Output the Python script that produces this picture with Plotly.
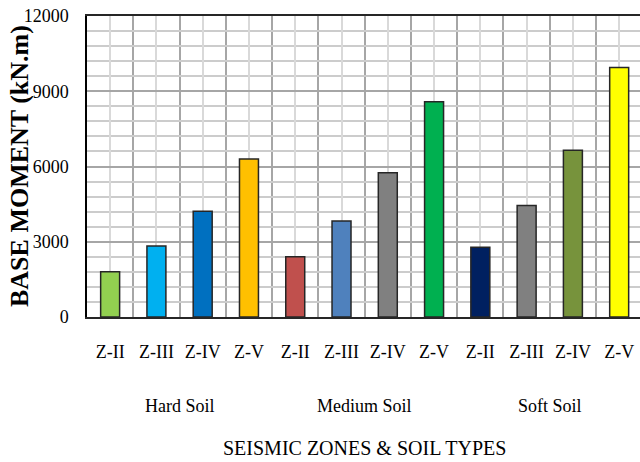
import plotly.graph_objects as go

# Base moment for each seismic zone, grouped by soil type
zones = ["Z-II", "Z-III", "Z-IV", "Z-V"] * 3
soil_types = ["Hard Soil", "Medium Soil", "Soft Soil"]
base_moment = [1800, 2830, 4220, 6300,
               2400, 3830, 5750, 8580,
               2780, 4450, 6650, 9950]
bar_colors = ["#92D050", "#00B0F0", "#0070C0", "#FFC000",
              "#C0504D", "#4F81BD", "#808080", "#00B050",
              "#002060", "#808080", "#77933C", "#FFFF00"]
y_ticks = [0, 3000, 6000, 9000, 12000]

positions = list(range(len(base_moment)))
boundaries = [p - 0.5 for p in positions] + [len(positions) - 0.5]

SERIF = "Liberation Serif"

fig = go.Figure(
    go.Bar(
        x=positions,
        y=base_moment,
        width=0.41,
        marker=dict(color=bar_colors, line=dict(color="#262626", width=1.5)),
        showlegend=False,
    )
)

fig.update_xaxes(
    range=[-0.5, 11.45],
    tickmode="array",
    tickvals=positions,
    ticktext=zones,
    ticks="",
    ticklabelstandoff=18,
    tickfont=dict(family=SERIF, size=18, color="black"),
    showgrid=True,
    gridcolor="#d9d9d9",
    gridwidth=1.5,
    minor=dict(tickmode="array", tickvals=boundaries, showgrid=True,
               gridcolor="#a6a6a6", gridwidth=1.5, ticks=""),
    showline=True,
    linecolor="#262626",
    linewidth=1.5,
    mirror=True,
    zeroline=False,
)

fig.update_yaxes(
    range=[0, 12000],
    tickmode="array",
    tickvals=y_ticks,
    ticktext=[str(v) for v in y_ticks],
    ticks="",
    ticklabelstandoff=13,
    tickfont=dict(family=SERIF, size=18, color="black"),
    showgrid=True,
    gridcolor="#a6a6a6",
    gridwidth=1.5,
    minor=dict(dtick=600, showgrid=True, gridcolor="#cccccc", gridwidth=1.5, ticks=""),
    showline=True,
    linecolor="black",
    linewidth=1.5,
    zeroline=False,
)

annotations = []
# soil-type group labels under each set of four zones
for i, name in enumerate(soil_types):
    annotations.append(dict(
        x=4 * i + 1.5, xref="x", y=-0.296, yref="paper",
        text=name, showarrow=False, xanchor="center", yanchor="middle",
        font=dict(family=SERIF, size=18, color="black"),
    ))
# x-axis title
annotations.append(dict(
    x=5.5, xref="x", y=-0.435, yref="paper",
    text="SEISMIC ZONES &amp; SOIL TYPES", showarrow=False,
    xanchor="center", yanchor="middle",
    font=dict(family=SERIF, size=20, color="black"),
))
# y-axis title
annotations.append(dict(
    x=(19.5 - 87) / 553, xref="paper", y=0.5, yref="paper",
    text="<b>BASE MOMENT (kN.m)</b>", showarrow=False, textangle=-90,
    xanchor="center", yanchor="middle",
    font=dict(family=SERIF, size=26, color="black"),
))

fig.update_layout(
    width=640,
    height=462,
    margin=dict(l=87, r=0, t=16, b=145),
    paper_bgcolor="white",
    plot_bgcolor="white",
    annotations=annotations,
)

fig.write_html("out.html")
